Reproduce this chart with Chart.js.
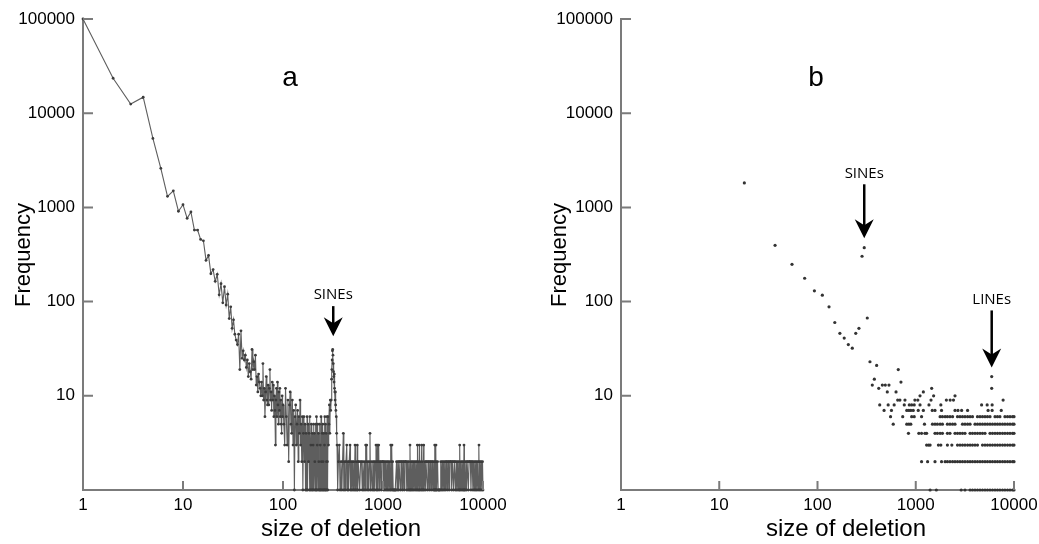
<!DOCTYPE html>
<html>
<head>
<meta charset="utf-8">
<script src="https://cdn.jsdelivr.net/npm/chart.js@4.4.0/dist/chart.umd.min.js"></script>
<style>
  html, body { margin: 0; padding: 0; background: #fff; }
  #wrap { position: relative; width: 1039px; height: 544px; }
  #wrap canvas { position: absolute; top: 0; }
</style>
</head>
<body>
<div id="wrap">
  <canvas id="chartA" width="519" height="544" style="left:0"></canvas>
  <canvas id="chartB" width="520" height="544" style="left:519px"></canvas>
</div>
<script>
// tick labels (both panels)
var xTickValues = [1, 10, 100, 1000, 10000];
var yTickValues = [10, 100, 1000, 10000, 100000];

// panel a : [size of deletion, frequency]
var deletionsA = [
  [1,100000],[2,23500],[3,12500],[4,14800],[5,5400],[6,2600],[7,1310],[8,1500],[9,910],[10,1070],
  [11,765],[12,895],[13,574],[14,574],[15,457],[16,442],[17,274],[18,309],[19,198],[20,219],
  [21,164],[22,195],[23,118],[24,155],[25,97],[26,144],[27,92],[28,120],[29,66],[30,88],
  [31,52],[32,64],[33,45],[34,39],[35,35],[36,45],[37,19],[38,49],[39,25],[40,30],
  [41,24],[42,27],[43,20],[44,24],[45,16],[46,22],[47,18],[48,15],[49,31],[50,19],
  [51,23],[52,19],[53,27],[54,13],[55,16],[56,11],[57,17],[58,14],[59,12],[60,10],
  [61,14],[62,10],[63,22],[64,9],[65,12],[66,6],[67,11],[68,16],[69,9],[70,8],
  [71,13],[72,8],[73,12],[74,19],[75,9],[76,11],[77,7],[78,14],[79,9],[80,13],
  [81,6],[82,10],[83,7],[84,3],[85,9],[86,12],[87,6],[88,14],[89,8],[90,5],
  [91,11],[92,7],[93,12],[94,6],[95,9],[96,5],[97,4],[98,10],[99,6],[100,8],
  [102,5],[104,3],[106,12],[108,6],[110,3],[112,9],[114,2],[116,8],[118,11],[120,5],
  [122,4],[124,9],[126,3],[128,7],[130,1],[132,6],[134,8],[136,3],[138,5],[140,7],
  [142,2],[144,6],[146,4],[148,9],[150,3],[152,5],[154,2],[156,6],[158,1],[160,4],
  [162,6],[164,2],[166,5],[168,1],[170,4],[172,1],[174,6],[176,1],[178,5],[180,2],
  [182,4],[184,1],[186,6],[188,1],[190,3],[192,5],[194,1],[196,4],[198,1],[200,3],
  [202,5],[204,1],[206,4],[208,2],[210,1],[212,5],[214,1],[216,6],[218,1],[220,3],
  [222,5],[224,1],[226,4],[228,2],[230,1],[232,5],[234,1],[236,3],[238,1],[240,6],
  [242,2],[244,1],[246,4],[248,1],[250,5],[252,2],[254,1],[256,4],[258,1],[260,3],
  [262,6],[264,1],[266,5],[268,1],[270,4],[272,2],[274,1],[276,6],[278,2],[280,1],
  [282,6],[285,3],[288,5],[291,8],[294,4],[297,9],[300,7],[303,9],[306,15],[308,19],
  [310,24],[312,30],[314,31],[316,27],[318,22],[320,18],[322,16],[324,14],[326,17],[328,12],
  [330,11],[332,9],[334,11],[336,8],[338,7],[341,6],[344,4],[347,3],
  [352,1],[358,2],[366,3],[372,1],[380,2],[388,1],[394,2],[401,4],[406,1],[413,2],
  [418,1],[426,2],[434,3],[440,1],[446,2],[452,1],[459,2],[468,3],[473,1],[480,2],
  [487,1],[495,2],[502,1],[510,2],[517,1],[525,3],[532,1],[540,2],[548,1],[553,3],
  [559,1],[565,2],[575,2],[585,1],[597,2],[610,2],[620,1],[630,2],[643,1],[655,2],
  [663,1],[671,3],[679,2],[687,3],[693,1],[705,2],[719,1],[730,2],[741,4],[749,1],
  [760,2],[778,1],[790,2],[802,1],[814,2],[826,1],[838,2],[851,3],[860,1],[868,2],
  [877,3],[885,1],[895,2],[906,3],[915,1],[929,2],[945,2],[960,1],[975,2],[990,2],
  [1005,2],[1015,1],[1030,2],[1046,1],[1060,2],[1077,1],[1093,2],[1109,1],[1126,2],[1143,1],
  [1160,2],[1177,1],[1194,3],[1204,1],[1212,2],[1230,3],[1240,1],[1249,2],[1265,1],[1286,1],
  [1305,1],[1325,1],[1345,1],[1365,2],[1385,1],[1406,2],[1428,1],[1448,2],[1470,2],[1491,1],
  [1513,2],[1536,2],[1560,1],[1582,2],[1605,2],[1630,1],[1655,2],[1679,2],[1704,2],[1729,1],
  [1755,2],[1781,1],[1808,2],[1834,1],[1862,3],[1875,1],[1889,2],[1918,1],[1946,2],[1975,1],
  [2004,2],[2034,1],[2064,2],[2095,1],[2126,2],[2158,1],[2190,2],[2203,3],[2220,1],[2256,2],
  [2280,1],[2307,3],[2323,1],[2350,2],[2393,1],[2438,3],[2450,1],[2465,2],[2510,1],[2553,3],
  [2570,1],[2615,2],[2650,1],[2693,2],[2730,2],[2774,1],[2815,2],[2857,2],[2900,1],[2943,2],
  [2990,2],[3031,1],[3080,2],[3122,2],[3170,1],[3216,2],[3250,1],[3289,3],[3300,1],[3312,2],
  [3350,1],[3388,3],[3400,1],[3412,2],[3460,1],[3514,2],[3560,1],[3619,1],[3670,1],[3728,1],
  [3780,2],[3840,1],[3900,2],[3955,1],[4015,2],[4074,1],[4135,2],[4196,1],[4260,2],[4322,2],
  [4385,1],[4451,2],[4518,2],[4585,1],[4650,2],[4722,2],[4790,2],[4864,1],[4935,2],[5010,2],
  [5085,1],[5160,2],[5240,2],[5315,1],[5395,2],[5475,1],[5555,2],[5639,1],[5720,2],[5808,1],
  [5848,3],[5900,1],[5982,2],[6070,1],[6162,2],[6250,1],[6347,2],[6400,1],[6457,3],[6500,1],
  [6537,2],[6635,1],[6733,2],[6835,1],[6935,2],[7040,2],[7143,1],[7250,2],[7357,2],[7470,2],
  [7578,1],[7690,2],[7805,2],[7920,1],[8039,2],[8160,1],[8281,2],[8400,1],[8529,2],[8650,1],
  [8785,2],[8920,1],[9049,2],[9120,3],[9180,1],[9320,2],[9450,1],[9600,2],[9750,1],[9890,2],
  [10000,1]
];

// panel b : scattered points [size, frequency]
var scatterB = [
  [18,1820],[37,396],[55,249],[74,177],[93,130],[112,117],[131,88],[150,60],[169,46],[187,41],
  [206,35],[226,32],[245,46],[264,52],[284,303],[299,374],[321,67],[342,23],[361,13],[379,15],
  [400,21],[420,12],[430,8],[457,13],[490,13],[534,13],[513,11],[630,11],[1195,11],[664,19],
  [707,14],[1452,12],[5930,16],[5930,12],[1105,10],[1520,10],[2510,10],
  [655,9],[690,9],[777,9],[980,9],[1050,9],[1430,9],[2050,9],[2240,9],[2420,9],[7750,9],
  [524,8],[603,8],[764,8],[860,8],[909,8],[965,8],[1105,8],[1363,8],[1800,8],[4680,8],[5330,8],[5990,8],
  [476,7],[566,7],[810,7],[851,7],[891,7],[943,7],[1060,7],[1195,7],[1472,7],[1570,7],
  [1830,7],[2510,7],[2690,7],[2930,7],[3370,7],[5450,7],[5990,7],[7420,7]
];
// panel b : sizes that fall on the low integer rows
var row6Sizes = [554,737,909,965,1146,1770,1870,1990,2100,2230,2370,2660,2820,2990,3170,3370,3570,3780,4250,4510,4780,5070,5370,5700,6410,6790,7190,8090,8590,9100,9660,10000];
var row5Sizes = [590,810,851,891,1227,1480,1570,1660,1770,1870,2100,2230,2370,2510,2990,3170,3370,3570,4010,4250,4510,4780,5070,5370,5700,6040,6410,6790,7190,7640,8090,8590,9100,9660,10000];
var row4Sizes = [843,1075,1146,1240,1290,1570,1660,1770,1870,2100,2230,2510,2660,2820,2990,3170,3570,3780,4010,4250,4510,4780,5070,5700,6040,6410,6790,7190,7640,8090,8590,9100,9660,10000];
var row3Sizes = [1290,1350,1400,1700,1800,2100,2330,2660,2820,2990,3170,3370,3570,3780,4010,4250,4780,5070,5370,5700,6040,6410,6790,7190,7640,8090,8590,9100,9660,10000];
var row2Sizes = [1146,1320,1570,1830,1990,2100,2230,2370,2510,2660,2820,2990,3170,3370,3570,3780,4010,4250,4510,4780,5070,5370,5700,6040,6410,6790,7190,7640,8090,8590,9100,9660,10000];
var row1Sizes = [1400,1620,2900,3170,3570,3780,4010,4250,4510,4780,5070,5370,5700,6040,6410,6790,7190,7640,8090,8590,9100,9660,10000];

// arrows : label, size, frequency at the arrow tip
var arrowsA = [["SINEs", 318, 43]];
var arrowsB = [["SINEs", 299, 470], ["LINEs", 5930, 20]];

var axisColor = "#7b7b7b";
var fontFamily = "'Liberation Sans', Arial, sans-serif";

function toPoints(pairs) {
  return pairs.map(function (p) { return { x: p[0], y: p[1] }; });
}

function rowPoints(sizes, freq) {
  return sizes.map(function (s) { return { x: s, y: freq }; });
}

function makeScales(yWidth) {
  return {
    x: {
      type: "logarithmic", min: 1, max: 10000,
      afterBuildTicks: function (s) { s.ticks = xTickValues.map(function (v) { return { value: v }; }); },
      afterFit: function (s) { s.height = 54; s.paddingLeft = 0; s.paddingRight = 0; },
      grid: { display: false, drawTicks: false, tickLength: 0 },
      border: { display: true, color: axisColor, width: 2 },
      ticks: { autoSkip: false, maxRotation: 0, padding: 5, color: "#000",
        font: { family: fontFamily, size: 17 }, callback: function (v) { return String(v); } }
    },
    y: {
      type: "logarithmic", min: 1, max: 100000,
      afterBuildTicks: function (s) { s.ticks = yTickValues.map(function (v) { return { value: v }; }); },
      afterFit: function (s) { s.width = yWidth; s.paddingTop = 0; s.paddingBottom = 0; },
      grid: { display: false, drawTicks: false, tickLength: 0 },
      border: { display: true, color: axisColor, width: 2 },
      ticks: { autoSkip: false, padding: 8, color: "#000",
        font: { family: fontFamily, size: 17 }, callback: function (v) { return String(v); } }
    }
  };
}

// tick marks point into the plot, as in the figure
var inwardTicks = {
  id: "inwardTicks",
  afterDraw: function (chart) {
    var ctx = chart.ctx, area = chart.chartArea;
    var xs = chart.scales.x, ys = chart.scales.y;
    ctx.save();
    ctx.strokeStyle = axisColor;
    ctx.lineWidth = 2;
    ctx.beginPath();
    xTickValues.forEach(function (v) {
      if (v <= 1) return;
      var px = xs.getPixelForValue(v);
      ctx.moveTo(px, area.bottom);
      ctx.lineTo(px, area.bottom - 9);
    });
    yTickValues.forEach(function (v) {
      var py = ys.getPixelForValue(v);
      ctx.moveTo(area.left, py);
      ctx.lineTo(area.left + 10, py);
    });
    ctx.stroke();
    ctx.restore();
  }
};

function drawArrow(ctx, x, tip, len, label) {
  ctx.save();
  ctx.strokeStyle = "#000";
  ctx.fillStyle = "#000";
  ctx.lineWidth = 2.5;
  ctx.beginPath();
  ctx.moveTo(x, tip - len);
  ctx.lineTo(x, tip - 12);
  ctx.stroke();
  ctx.beginPath();
  ctx.moveTo(x, tip);
  ctx.lineTo(x - 9.5, tip - 19);
  ctx.lineTo(x, tip - 13);
  ctx.lineTo(x + 9.5, tip - 19);
  ctx.closePath();
  ctx.fill();
  ctx.font = "15px 'Open Sans', " + fontFamily;
  ctx.textAlign = "center";
  ctx.textBaseline = "middle";
  ctx.fillText(label, x, tip - len - 11);
  ctx.restore();
}

function textPlugin(panel, letterX, freqX, titleX, arrows, shaftLens) {
  return {
    id: "texts" + panel,
    afterDraw: function (chart) {
      var ctx = chart.ctx;
      ctx.save();
      ctx.fillStyle = "#000";
      ctx.textAlign = "center";
      ctx.textBaseline = "middle";
      ctx.font = "28px " + fontFamily;
      ctx.fillText(panel, letterX, 78);
      ctx.font = "24px " + fontFamily;
      ctx.fillText("size of deletion", titleX, 529);
      ctx.translate(freqX, 255);
      ctx.rotate(-Math.PI / 2);
      ctx.font = "22px " + fontFamily;
      ctx.fillText("Frequency", 0, 0);
      ctx.restore();
      arrows.forEach(function (a, i) {
        var px = chart.scales.x.getPixelForValue(a[1]);
        var py = chart.scales.y.getPixelForValue(a[2]);
        drawArrow(ctx, px, py, shaftLens[i], a[0]);
      });
    }
  };
}

new Chart(document.getElementById("chartA"), {
  type: "line",
  data: {
    datasets: [{
      data: toPoints(deletionsA),
      borderColor: "#5e5e5e",
      borderWidth: 1.1,
      pointRadius: 1.4,
      pointBorderWidth: 0,
      pointBackgroundColor: "#3c3c3c",
      tension: 0,
      clip: false
    }]
  },
  options: {
    responsive: false,
    animation: false,
    events: [],
    layout: { padding: { top: 19, right: 36, bottom: 0, left: 0 } },
    plugins: { legend: { display: false }, tooltip: { enabled: false } },
    scales: makeScales(83)
  },
  plugins: [inwardTicks, textPlugin("a", 290, 24, 341, arrowsA, [30])]
});

new Chart(document.getElementById("chartB"), {
  type: "scatter",
  data: {
    datasets: [{
      data: toPoints(scatterB)
        .concat(rowPoints(row6Sizes, 6), rowPoints(row5Sizes, 5), rowPoints(row4Sizes, 4))
        .concat(rowPoints(row3Sizes, 3), rowPoints(row2Sizes, 2), rowPoints(row1Sizes, 1)),
      pointRadius: 1.6,
      pointBorderWidth: 0,
      pointBackgroundColor: "#333",
      clip: false
    }]
  },
  options: {
    responsive: false,
    animation: false,
    events: [],
    layout: { padding: { top: 19, right: 25, bottom: 0, left: 0 } },
    plugins: { legend: { display: false }, tooltip: { enabled: false } },
    scales: makeScales(102)
  },
  plugins: [inwardTicks, textPlugin("b", 297, 41, 327, arrowsB, [54, 57])]
});
</script>
</body>
</html>
